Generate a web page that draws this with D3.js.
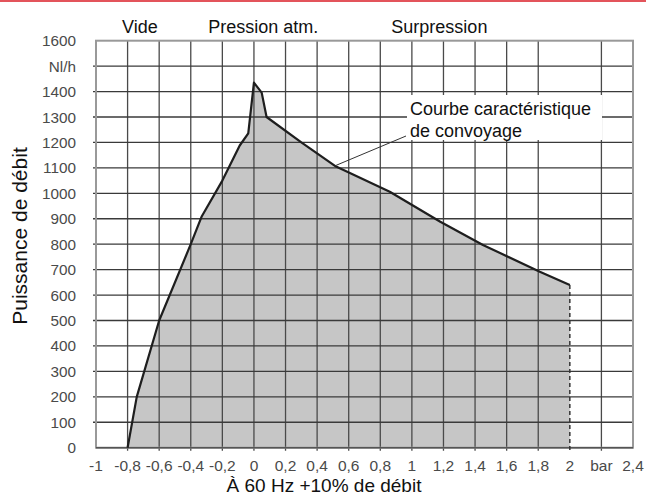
<!DOCTYPE html>
<html>
<head>
<meta charset="utf-8">
<script src="https://cdn.jsdelivr.net/npm/d3@7"></script>
<style>
  body { margin: 0; background: #fff; }
  svg { display: block; font-family: "Liberation Sans", Arial, sans-serif; }
</style>
</head>
<body>
<svg id="chart" width="646" height="495"></svg>
<script>
// curve points (bar, Nl/h)
const pressure = [-0.8, -0.742, -0.6, -0.4, -0.33, -0.2, -0.09, -0.036, 0, 0.049, 0.08, 0.3, 0.52, 0.86, 1.18, 1.45, 1.81, 2];
const flow = [0, 200, 500, 800, 910, 1050, 1188, 1236, 1435, 1396, 1300, 1200, 1105, 1006, 888, 797, 692, 640];

const xTicks = [-1, -0.8, -0.6, -0.4, -0.2, 0, 0.2, 0.4, 0.6, 0.8, 1, 1.2, 1.4, 1.6, 1.8, 2, 2.2, 2.4];
const xLabels = ["-1", "-0,8", "-0,6", "-0,4", "-0,2", "0", "0,2", "0,4", "0,6", "0,8", "1", "1,2", "1,4", "1,6", "1,8", "2", "bar", "2,4"];
const yTicks = [0, 100, 200, 300, 400, 500, 600, 700, 800, 900, 1000, 1100, 1200, 1300, 1400, 1500, 1600];
const yLabels = ["0", "100", "200", "300", "400", "500", "600", "700", "800", "900", "1000", "1100", "1200", "1300", "1400", "Nl/h", "1600"];

const zones = ["Vide", "Pression atm.", "Surpression"];
const zoneX = [-0.835, -0.29, 0.87]; // left edge of each zone label, in bar

const MARGIN = {top: 40.7, right: 13, bottom: 47.3, left: 96};
const W = 646, H = 495;

const svg = d3.select('#chart');

const xScale = d3.scaleLinear()
    .domain([-1, 2.4])
    .range([MARGIN.left, W - MARGIN.right]);
const yScale = d3.scaleLinear()
    .domain([0, 1600])
    .range([H - MARGIN.bottom, MARGIN.top]);

// red rule at the top
svg.append('rect')
    .attr('x', 0).attr('y', 0)
    .attr('width', W).attr('height', 2)
    .attr('fill', '#e3545b');

const pts = pressure.map((p, i) => [p, flow[i]]);

// filled area under the curve
svg.append('path')
    .datum(pts)
    .attr('fill', '#c6c6c6')
    .attr('d', d3.area()
        .x(d => xScale(d[0]))
        .y0(yScale(0))
        .y1(d => yScale(d[1])));

// grid (drawn over the fill)
svg.append('g')
    .selectAll('line')
    .data(xTicks.slice(1, -1))
    .join('line')
    .attr('x1', d => xScale(d)).attr('x2', d => xScale(d))
    .attr('y1', yScale(1600)).attr('y2', yScale(0) + 3)
    .attr('stroke', d => d === 2 ? 'none' : '#4a4a4a')
    .attr('stroke-width', 1.3);

svg.append('g')
    .selectAll('line')
    .data(yTicks.slice(1, -1))
    .join('line')
    .attr('x1', xScale(-1) - 3).attr('x2', xScale(2.4))
    .attr('y1', d => yScale(d)).attr('y2', d => yScale(d))
    .attr('stroke', '#3a3a3a')
    .attr('stroke-width', 1.3);

// frame
svg.append('rect')
    .attr('x', xScale(-1)).attr('y', yScale(1600))
    .attr('width', xScale(2.4) - xScale(-1))
    .attr('height', yScale(0) - yScale(1600))
    .attr('fill', 'none')
    .attr('stroke', '#999')
    .attr('stroke-width', 2);
svg.append('line')
    .attr('x1', xScale(-1)).attr('x2', xScale(2.4))
    .attr('y1', yScale(0)).attr('y2', yScale(0))
    .attr('stroke', '#555').attr('stroke-width', 1.5);

// dashed drop at the end of the curve
svg.append('line')
    .attr('x1', xScale(2)).attr('x2', xScale(2))
    .attr('y1', yScale(flow[flow.length - 1])).attr('y2', yScale(0) + 3)
    .attr('stroke', '#333')
    .attr('stroke-width', 1.5)
    .attr('stroke-dasharray', '4,3');

// curve
svg.append('path')
    .datum(pts)
    .attr('fill', 'none')
    .attr('stroke', '#1e1e1e')
    .attr('stroke-width', 2.2)
    .attr('stroke-linejoin', 'round')
    .attr('d', d3.line()
        .x(d => xScale(d[0]))
        .y(d => yScale(d[1])));

// axis labels
svg.append('g')
    .selectAll('text')
    .data(xTicks)
    .join('text')
    .attr('x', d => xScale(d))
    .attr('y', yScale(0) + 23)
    .attr('text-anchor', 'middle')
    .attr('font-size', 15.5)
    .attr('fill', '#4a4a4a')
    .text((d, i) => xLabels[i]);

svg.append('g')
    .selectAll('text')
    .data(yTicks)
    .join('text')
    .attr('x', 76)
    .attr('y', d => yScale(d) + 5.5)
    .attr('text-anchor', 'end')
    .attr('font-size', 15.3)
    .attr('fill', '#4a4a4a')
    .text((d, i) => yLabels[i]);

svg.append('text')
    .attr('x', 324)
    .attr('y', 492)
    .attr('text-anchor', 'middle')
    .attr('font-size', 19)
    .attr('fill', '#111')
    .text('À 60 Hz +10% de débit');

svg.append('text')
    .attr('transform', 'translate(27,236) rotate(-90)')
    .attr('text-anchor', 'middle')
    .attr('font-size', 21)
    .attr('fill', '#111')
    .text('Puissance de débit');

// zone labels above the plot
svg.append('g')
    .selectAll('text')
    .data(zones)
    .join('text')
    .attr('x', (d, i) => xScale(zoneX[i]))
    .attr('y', 33)
    .attr('font-size', 18)
    .attr('fill', '#111')
    .text(d => d);

// annotation
svg.append('line')
    .attr('x1', xScale(0.52)).attr('y1', yScale(1110))
    .attr('x2', 406).attr('y2', 136)
    .attr('stroke', '#333').attr('stroke-width', 1);
svg.append('rect')
    .attr('x', 407).attr('y', 95)
    .attr('width', 195).attr('height', 45)
    .attr('fill', '#fff');
const note = svg.append('text')
    .attr('font-size', 18)
    .attr('fill', '#111');
note.append('tspan').attr('x', 410).attr('y', 115).text('Courbe caractéristique');
note.append('tspan').attr('x', 410).attr('y', 136.5).text('de convoyage');
</script>
</body>
</html>
